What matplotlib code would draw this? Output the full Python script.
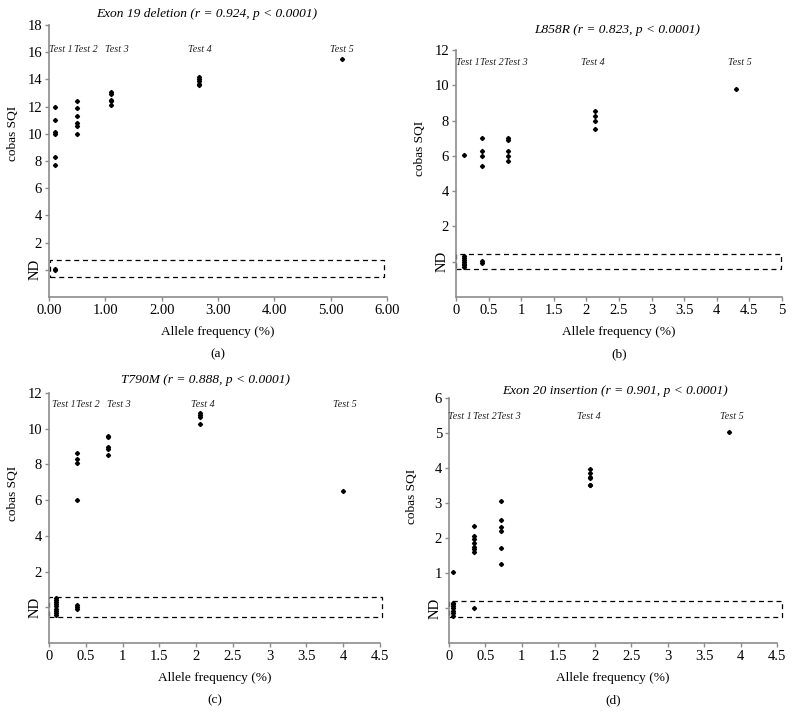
import matplotlib
matplotlib.use("Agg")
import matplotlib.pyplot as plt
from matplotlib.patches import Rectangle

plt.rcParams['font.family'] = ['Liberation Serif', 'DejaVu Serif']

# ---------------- data ----------------
# (a) Exon 19 deletion
a_x = [0.1]*6 + [0.5]*6 + [1.1]*5 + [2.66]*5 + [5.2]
a_y = [12.0, 11.0, 10.1, 10.0, 8.3, 7.7,
       12.4, 11.9, 11.3, 10.8, 10.6, 10.0,
       13.1, 12.9, 12.5, 12.4, 12.1,
       14.2, 14.0, 13.9, 13.7, 13.6,
       15.5]
a_nd_x = [0.1, 0.1]
a_nd_y = [0.0, 0.05]

# (b) L858R
b_x = [0.12] + [0.4]*4 + [0.8]*5 + [2.13]*4 + [4.3]
b_y = [6.05,
       7.0, 6.25, 6.0, 5.4,
       7.0, 6.9, 6.3, 6.0, 5.7,
       8.55, 8.25, 8.0, 7.5,
       9.8]
b_nd_x = [0.12]*7 + [0.4]*2
b_nd_y = [-0.3, -0.2, -0.1, 0.0, 0.1, 0.2, 0.3, -0.05, 0.05]

# (c) T790M
c_x = [0.38]*4 + [0.8]*5 + [2.05]*4 + [4.0]
c_y = [8.65, 8.3, 8.1, 6.0,
       9.6, 9.55, 9.0, 8.85, 8.55,
       10.9, 10.75, 10.65, 10.25,
       6.5]
c_nd_x = [0.1]*9 + [0.38]*3
c_nd_y = [-0.45, -0.33, -0.2, -0.08, 0.05, 0.17, 0.3, 0.42, 0.5, -0.1, 0.0, 0.1]

# (d) Exon 20 insertion
d_x = [0.05] + [0.34]*7 + [0.71]*6 + [1.93]*6 + [3.84]
d_y = [1.03,
       2.35, 2.05, 1.98, 1.85, 1.75, 1.68, 1.6,
       3.05, 2.5, 2.3, 2.2, 1.7, 1.27,
       3.97, 3.85, 3.75, 3.7, 3.52, 3.5,
       5.03]
d_nd_x = [0.05]*7 + [0.34]
d_nd_y = [-0.22, -0.15, -0.08, 0.0, 0.05, 0.1, 0.15, 0.0]

test_labels = ["Test 1", "Test 2", "Test 3", "Test 4", "Test 5"]

panels = [
    dict(pos=[0.0618, 0.592, 0.4262, 0.3736], x=a_x, y=a_y, ndx=a_nd_x, ndy=a_nd_y,
         xlim=(0, 6), ylim=(-2, 18), xticks=[0, 1, 2, 3, 4, 5, 6],
         xticklabels=["0.00", "1.00", "2.00", "3.00", "4.00", "5.00", "6.00"],
         yticks=[0, 2, 4, 6, 8, 10, 12, 14, 16, 18],
         labx=[0.21, 0.66, 1.2, 2.68, 5.2], laby=16.2,
         box=(0.01, -0.55, 5.94, 1.25),
         title="Exon 19 deletion (r = 0.924, p < 0.0001)", title_xy=(207, 14),
         xlabel_y=332, sub="(a)", sub_y=354, ylab_x=13),
    dict(pos=[0.575, 0.592, 0.4111, 0.3393], x=b_x, y=b_y, ndx=b_nd_x, ndy=b_nd_y,
         xlim=(0, 5), ylim=(-2, 12), xticks=[0, 0.5, 1, 1.5, 2, 2.5, 3, 3.5, 4, 4.5, 5],
         xticklabels=["0", "0.5", "1", "1.5", "2", "2.5", "3", "3.5", "4", "4.5", "5"],
         yticks=[0, 2, 4, 6, 8, 10, 12],
         labx=[0.19, 0.55, 0.92, 2.1, 4.35], laby=11.3,
         box=(0.0, -0.42, 4.99, 0.84),
         title="L858R (r = 0.823, p < 0.0001)", title_xy=(617, 30),
         xlabel_y=332, sub="(b)", sub_y=354, ylab_x=420),
    dict(pos=[0.0618, 0.1168, 0.4174, 0.3434], x=c_x, y=c_y, ndx=c_nd_x, ndy=c_nd_y,
         xlim=(0, 4.5), ylim=(-2, 12), xticks=[0, 0.5, 1, 1.5, 2, 2.5, 3, 3.5, 4, 4.5],
         xticklabels=["0", "0.5", "1", "1.5", "2", "2.5", "3", "3.5", "4", "4.5"],
         yticks=[0, 2, 4, 6, 8, 10, 12],
         labx=[0.2, 0.53, 0.95, 2.09, 4.02], laby=11.33,
         box=(0.0, -0.52, 4.53, 1.12),
         title="T790M (r = 0.888, p < 0.0001)", title_xy=(205, 380),
         xlabel_y=678, sub="(c)", sub_y=700, ylab_x=13),
    dict(pos=[0.5662, 0.1168, 0.4136, 0.3365], x=d_x, y=d_y, ndx=d_nd_x, ndy=d_nd_y,
         xlim=(0, 4.5), ylim=(-1, 6), xticks=[0, 0.5, 1, 1.5, 2, 2.5, 3, 3.5, 4, 4.5],
         xticklabels=["0", "0.5", "1", "1.5", "2", "2.5", "3", "3.5", "4", "4.5"],
         yticks=[0, 1, 2, 3, 4, 5, 6],
         labx=[0.15, 0.49, 0.82, 1.92, 3.88], laby=5.46,
         box=(0.0, -0.27, 4.57, 0.48),
         title="Exon 20 insertion (r = 0.901, p < 0.0001)", title_xy=(615, 391),
         xlabel_y=678, sub="(d)", sub_y=700, ylab_x=412),
]

W, H = 793, 728
fig = plt.figure(figsize=(W / 100, H / 100), dpi=100)
spine_col = "#8c8c8c"

for p in panels:
    ax = fig.add_axes(p["pos"])
    ax.plot(p["x"], p["y"], linestyle="none", marker="D", markersize=2.1,
            color="black", clip_on=False)
    ax.plot(p["ndx"], p["ndy"], linestyle="none", marker="D", markersize=2.1,
            color="black", clip_on=False)
    ax.set_xlim(*p["xlim"])
    ax.set_ylim(*p["ylim"])
    ax.set_xticks(p["xticks"])
    ax.set_xticklabels(p["xticklabels"])
    ax.set_yticks(p["yticks"])
    ylabels = ["ND"] + [str(v) for v in p["yticks"][1:]]
    ax.set_yticklabels(ylabels)
    tl = ax.get_yticklabels()
    tl[0].set_rotation(90)
    tl[0].set_verticalalignment("center")
    for s in ["top", "right"]:
        ax.spines[s].set_visible(False)
    for s in ["left", "bottom"]:
        ax.spines[s].set_color(spine_col)
        ax.spines[s].set_linewidth(1.2)
    ax.tick_params(axis="both", colors=spine_col, labelcolor="black",
                   labelsize=10.5, length=3, width=1, pad=2)
    bx, by, bw, bh = p["box"]
    ax.add_patch(Rectangle((bx, by), bw, bh, fill=False, edgecolor="black",
                           linestyle=(0, (4, 3)), linewidth=0.9, clip_on=False))
    for lx, lab in zip(p["labx"], test_labels):
        ax.text(lx, p["laby"], lab, ha="center", va="center", fontsize=7.3,
                style="italic", color="#222222")
    # titles, axis labels, panel letters positioned in figure pixels
    tx, ty = p["title_xy"]
    fig.text(tx / W, 1 - ty / H, p["title"], ha="center", va="center",
             fontsize=9.6, style="italic")
    l, b, w, h = p["pos"]
    fig.text(l + w / 2, 1 - p["xlabel_y"] / H, "Allele frequency (%)",
             ha="center", va="center", fontsize=9.6)
    fig.text(l + w / 2, 1 - p["sub_y"] / H, p["sub"], ha="center", va="center",
             fontsize=9.6)
    fig.text(p["ylab_x"] / W, b + h * 0.6, "cobas SQI", rotation=90,
             ha="center", va="center", fontsize=9.6)

fig.savefig("out.png", dpi=100)
